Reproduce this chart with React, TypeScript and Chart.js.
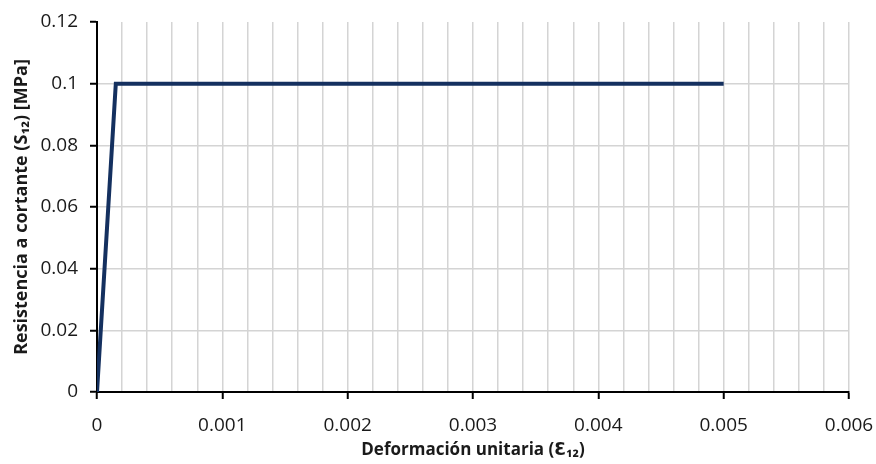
import React, { useEffect, useRef } from "react";
import { Chart, registerables } from "chart.js";

Chart.register(...registerables);

const strainValues = [0, 0.00015, 0.005];
const stressValues = [0, 0.1, 0.1];
const xTickLabels = ["0", "0.001", "0.002", "0.003", "0.004", "0.005", "0.006"];
const yTickLabels = ["0", "0.02", "0.04", "0.06", "0.08", "0.1", "0.12"];
const xTitle = "Deformación unitaria (Ɛ₁₂)";
const yTitle = "Resistencia a cortante (S₁₂) [MPa]";

const FONT = "'Open Sans', 'DejaVu Sans', sans-serif";

function isMajorX(v: number) {
  const k = v * 1000;
  return Math.abs(k - Math.round(k)) < 1e-6;
}

export default function App() {
  const ref = useRef<HTMLCanvasElement | null>(null);
  useEffect(() => {
    document.body.style.margin = "0";
    const canvas = ref.current;
    if (!canvas) return;
    const chart = new Chart(canvas, {
      type: "scatter",
      data: {
        datasets: [
          {
            data: strainValues.map((x, i) => ({ x, y: stressValues[i] })),
            showLine: true,
            borderColor: "#14305f",
            borderWidth: 4,
            pointRadius: 0,
            tension: 0,
            borderJoinStyle: "miter",
          },
        ],
      },
      options: {
        animation: false,
        responsive: false,
        maintainAspectRatio: false,
        plugins: { legend: { display: false }, tooltip: { enabled: false } },
        layout: { padding: { left: 0, right: 27, top: 22, bottom: 0 } },
        scales: {
          x: {
            type: "linear",
            min: 0,
            max: 0.006,
            afterFit: (s: any) => {
              s.height = 72;
              s.paddingLeft = 0;
              s.paddingRight = 0;
            },
            ticks: {
              stepSize: 0.0002,
              autoSkip: false,
              maxRotation: 0,
              minRotation: 0,
              padding: 15,
              color: "#1a1a1a",
              font: { family: FONT, size: 19 },
              callback: (v: any) => {
                const n = Number(v);
                if (!isMajorX(n)) return "";
                return xTickLabels[Math.round(n * 1000)] ?? "";
              },
            },
            grid: {
              color: (ctx: any) => {
                const v = ctx.tick ? ctx.tick.value : 0;
                return v === 0 ? "rgba(0,0,0,0)" : "#d4d4d4";
              },
              lineWidth: 1.5,
              drawTicks: true,
              tickLength: 7,
              tickColor: (ctx: any) => {
                const v = ctx.tick ? ctx.tick.value : 0;
                return isMajorX(v) ? "#000" : "rgba(0,0,0,0)";
              },
              tickWidth: 2,
            },
            border: { color: "#000", width: 2 },
            title: {
              display: true,
              text: xTitle,
              color: "#1a1a1a",
              font: { family: FONT, size: 17, weight: "bold" },
              padding: { top: 0, bottom: 4 },
            },
          },
          y: {
            type: "linear",
            min: 0,
            max: 0.12,
            afterFit: (s: any) => {
              s.width = 97;
              s.paddingTop = 0;
              s.paddingBottom = 0;
            },
            ticks: {
              stepSize: 0.02,
              padding: 12,
              color: "#1a1a1a",
              font: { family: FONT, size: 19 },
              callback: (v: any) => {
                const i = Math.round(Number(v) / 0.02);
                return yTickLabels[i] ?? "";
              },
            },
            grid: {
              color: (ctx: any) => {
                const v = ctx.tick ? ctx.tick.value : 0;
                return v === 0 || v > 0.119 ? "rgba(0,0,0,0)" : "#d4d4d4";
              },
              lineWidth: 1.5,
              tickLength: 7,
              tickColor: "#000",
              tickWidth: 2,
            },
            border: { color: "#000", width: 2 },
            title: {
              display: true,
              text: yTitle,
              color: "#1a1a1a",
              font: { family: FONT, size: 18, weight: "bold" },
              padding: { top: 11, bottom: 0 },
            },
          },
        },
      },
    });
    return () => chart.destroy();
  }, []);
  return (
    <div style={{ width: 876, height: 464, background: "#fff" }}>
      <canvas ref={ref} width={876} height={464} style={{ display: "block" }} />
    </div>
  );
}
